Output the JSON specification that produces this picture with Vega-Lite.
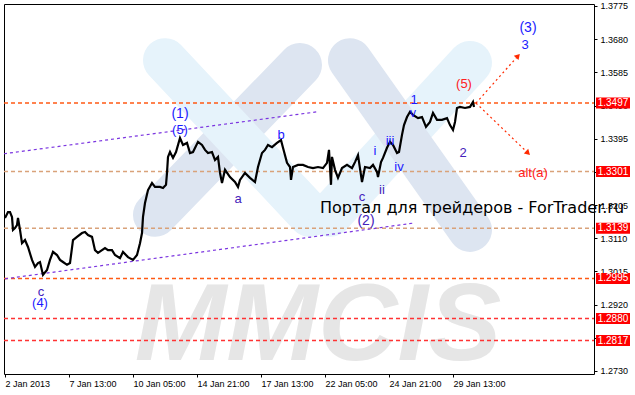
{
  "$schema": "https://vega.github.io/schema/vega-lite/v6.json",
  "width": 590,
  "height": 370,
  "autosize": {"type": "none"},
  "padding": {"left": 4, "top": 4, "right": 41, "bottom": 21},
  "background": "white",
  "config": {
    "view": {"stroke": "black", "strokeWidth": 1},
    "axis": {"labelFont": "Liberation Sans", "labelFontSize": 9, "labelColor": "black", "tickColor": "black", "grid": false, "domain": false, "title": null}
  },
  "resolve": {"scale": {"color": "independent", "size": "independent", "angle": "independent"}},
  "datasets": {
    "price": [
      {"b":1,"p":1.3168},{"b":4,"p":1.3185},{"b":6,"p":1.3185},{"b":8,"p":1.3171},{"b":9,"p":1.3134},{"b":11,"p":1.3139},{"b":13,"p":1.3148},{"b":14,"p":1.3168},{"b":16,"p":1.3134},{"b":18,"p":1.3096},{"b":21,"p":1.3105},{"b":24,"p":1.3085},{"b":28,"p":1.3048},{"b":31,"p":1.3028},{"b":34,"p":1.3039},{"b":36,"p":1.3042},{"b":39,"p":1.3005},{"b":43,"p":1.3019},{"b":46,"p":1.3048},{"b":49,"p":1.3071},{"b":53,"p":1.3062},{"b":56,"p":1.3048},{"b":59,"p":1.3042},{"b":63,"p":1.3034},{"b":66,"p":1.3039},{"b":69,"p":1.3105},{"b":73,"p":1.3114},{"b":78,"p":1.3125},{"b":81,"p":1.3128},{"b":84,"p":1.3119},{"b":88,"p":1.3114},{"b":91,"p":1.3076},{"b":94,"p":1.3068},{"b":98,"p":1.3076},{"b":101,"p":1.3082},{"b":104,"p":1.3076},{"b":108,"p":1.3076},{"b":111,"p":1.3062},{"b":116,"p":1.3053},{"b":119,"p":1.3071},{"b":124,"p":1.3056},{"b":129,"p":1.3048},{"b":133,"p":1.3062},{"b":136,"p":1.3096},{"b":138,"p":1.3125},{"b":139,"p":1.3171},{"b":141,"p":1.3211},{"b":144,"p":1.3248},{"b":148,"p":1.3268},{"b":151,"p":1.3257},{"b":156,"p":1.3257},{"b":159,"p":1.3254},{"b":162,"p":1.3263},{"b":163,"p":1.3297},{"b":164,"p":1.3343},{"b":166,"p":1.3357},{"b":169,"p":1.3340},{"b":172,"p":1.3357},{"b":176,"p":1.3397},{"b":179,"p":1.3377},{"b":183,"p":1.3383},{"b":186,"p":1.3354},{"b":189,"p":1.3357},{"b":194,"p":1.3386},{"b":198,"p":1.3377},{"b":201,"p":1.3363},{"b":204,"p":1.3354},{"b":208,"p":1.3357},{"b":211,"p":1.3334},{"b":214,"p":1.3343},{"b":216,"p":1.3297},{"b":218,"p":1.3268},{"b":221,"p":1.3306},{"b":226,"p":1.3285},{"b":231,"p":1.3271},{"b":234,"p":1.3257},{"b":236,"p":1.3277},{"b":241,"p":1.3297},{"b":246,"p":1.3283},{"b":251,"p":1.3271},{"b":254,"p":1.3314},{"b":258,"p":1.3354},{"b":261,"p":1.3363},{"b":264,"p":1.3377},{"b":268,"p":1.3371},{"b":273,"p":1.3383},{"b":277,"p":1.3391},{"b":279,"p":1.3369},{"b":283,"p":1.3326},{"b":286,"p":1.3314},{"b":287,"p":1.3277},{"b":289,"p":1.3314},{"b":294,"p":1.3320},{"b":299,"p":1.3320},{"b":304,"p":1.3314},{"b":309,"p":1.3311},{"b":314,"p":1.3314},{"b":319,"p":1.3311},{"b":323,"p":1.3326},{"b":325,"p":1.3363},{"b":327,"p":1.3263},{"b":328,"p":1.3343},{"b":331,"p":1.3306},{"b":334,"p":1.3283},{"b":338,"p":1.3311},{"b":343,"p":1.3320},{"b":348,"p":1.3311},{"b":351,"p":1.3328},{"b":354,"p":1.3348},{"b":358,"p":1.3271},{"b":361,"p":1.3314},{"b":366,"p":1.3311},{"b":369,"p":1.3320},{"b":373,"p":1.3300},{"b":374,"p":1.3285},{"b":377,"p":1.3328},{"b":379,"p":1.3340},{"b":383,"p":1.3369},{"b":386,"p":1.3386},{"b":389,"p":1.3377},{"b":393,"p":1.3354},{"b":395,"p":1.3357},{"b":398,"p":1.3406},{"b":400,"p":1.3434},{"b":403,"p":1.3457},{"b":406,"p":1.3472},{"b":409,"p":1.3463},{"b":414,"p":1.3454},{"b":418,"p":1.3457},{"b":422,"p":1.3429},{"b":426,"p":1.3443},{"b":429,"p":1.3469},{"b":433,"p":1.3449},{"b":438,"p":1.3449},{"b":443,"p":1.3454},{"b":446,"p":1.3434},{"b":449,"p":1.3420},{"b":451,"p":1.3443},{"b":453,"p":1.3483},{"b":456,"p":1.3486},{"b":461,"p":1.3483},{"b":466,"p":1.3486},{"b":469,"p":1.3500},{"b":470,"p":1.3486}
    ],
    "levels": [
      {"p":1.3497,"label":"1.3497","kind":"key"},
      {"p":1.3301,"label":"1.3301","kind":"mid"},
      {"p":1.3139,"label":"1.3139","kind":"mid"},
      {"p":1.2995,"label":"1.2995","kind":"key"},
      {"p":1.2880,"label":"1.2880","kind":"low"},
      {"p":1.2817,"label":"1.2817","kind":"low"}
    ],
    "trends": [
      {"b":0,"p":1.3352,"b2":313,"p2":1.3472},
      {"b":1,"p":1.2994,"b2":411,"p2":1.3154}
    ],
    "arrows": [
      {"b":472,"p":1.3497,"b2":514,"p2":1.3632,"head":"up"},
      {"b":472,"p":1.3497,"b2":524,"p2":1.3354,"head":"down"}
    ],
    "logo": [
      {"b":151,"p":1.3177,"b2":296,"p2":1.3606,"tone":"steel"},
      {"b":161,"p":1.3620,"b2":306,"p2":1.3177,"tone":"pale"},
      {"b":466,"p":1.3612,"b2":326,"p2":1.3177,"tone":"pale"},
      {"b":346,"p":1.3620,"b2":466,"p2":1.3134,"tone":"steel"}
    ],
    "brand": [{"b":314,"p":1.2762,"t":"MMCIS"}],
    "portal": [{"b":316,"p":1.3182,"t":"Портал для трейдеров - ForTrader.ru"}],
    "notes": [
      {"b":524,"p":1.3712,"t":"(3)","c":"blue","s":"big"},
      {"b":521,"p":1.3663,"t":"3","c":"blue","s":"mid"},
      {"b":460,"p":1.3552,"t":"(5)","c":"red","s":"mid"},
      {"b":410,"p":1.3506,"t":"1","c":"blue","s":"mid"},
      {"b":409,"p":1.3469,"t":"v","c":"blue","s":"small"},
      {"b":459,"p":1.3354,"t":"2","c":"indigo","s":"mid"},
      {"b":529,"p":1.3297,"t":"alt(a)","c":"red","s":"mid"},
      {"b":176,"p":1.3466,"t":"(1)","c":"blue","s":"big"},
      {"b":176,"p":1.3420,"t":"(5)","c":"blue","s":"mid"},
      {"b":277,"p":1.3406,"t":"b","c":"blue","s":"mid"},
      {"b":234,"p":1.3222,"t":"a","c":"indigo","s":"mid"},
      {"b":371,"p":1.3360,"t":"i","c":"blue","s":"mid"},
      {"b":386,"p":1.3389,"t":"iii","c":"blue","s":"mid"},
      {"b":395,"p":1.3314,"t":"iv","c":"blue","s":"mid"},
      {"b":378,"p":1.3248,"t":"ii","c":"indigo","s":"mid"},
      {"b":358,"p":1.3228,"t":"c","c":"indigo","s":"mid"},
      {"b":362,"p":1.3160,"t":"(2)","c":"indigo","s":"big"},
      {"b":37,"p":1.2956,"t":"c","c":"indigo","s":"mid"},
      {"b":36,"p":1.2925,"t":"(4)","c":"blue","s":"mid"}
    ]
  },
  "encoding": {
    "y": {"field": "p", "type": "quantitative", "scale": {"domain": [1.27214, 1.37807], "nice": false, "zero": false},
      "axis": {"orient": "right", "values": [1.3775, 1.3680, 1.3585, 1.3490, 1.3395, 1.3300, 1.3205, 1.3110, 1.3015, 1.2920, 1.2825, 1.2730], "format": ".4f", "tickSize": 3, "labelPadding": 3, "labelBaseline": "middle", "labelOverlap": false, "title": null}}
  },
  "layer": [
    {
      "data": {"name": "logo"},
      "mark": {"type": "rule", "strokeWidth": 44, "strokeCap": "round"},
      "encoding": {
        "x": {"field": "b", "type": "quantitative", "title": null},
        "x2": {"field": "b2"},
        "y2": {"field": "p2"},
        "color": {"field": "tone", "type": "nominal", "scale": {"domain": ["steel", "pale"], "range": ["#dde5f1", "#e6f3fb"]}, "legend": null}
      }
    },
    {
      "data": {"name": "brand"},
      "mark": {"type": "text", "font": "Liberation Sans", "fontSize": 110, "fontWeight": "bold", "fontStyle": "italic", "color": "#e6e6e6", "align": "center", "baseline": "alphabetic"},
      "encoding": {
        "x": {"field": "b", "type": "quantitative", "title": null},
        "text": {"field": "t"}
      }
    },
    {
      "data": {"name": "levels"},
      "mark": {"type": "rule", "strokeWidth": 1.5, "strokeDash": [4, 3]},
      "encoding": {
        "x": {"datum": 0},
        "x2": {"datum": 590},
        "color": {"field": "kind", "type": "nominal", "scale": {"domain": ["key", "mid", "low"], "range": ["#ff5a14", "#d9a27a", "#ff3333"]}, "legend": null}
      }
    },
    {
      "data": {"name": "trends"},
      "mark": {"type": "rule", "strokeWidth": 1.2, "strokeDash": [3, 3], "color": "#7b35e0"},
      "encoding": {
        "x": {"field": "b", "type": "quantitative", "title": null},
        "x2": {"field": "b2"}, "y2": {"field": "p2"}
      }
    },
    {
      "data": {"name": "arrows"},
      "mark": {"type": "rule", "strokeWidth": 1.2, "strokeDash": [2, 3], "color": "#ff2a00"},
      "encoding": {
        "x": {"field": "b", "type": "quantitative", "title": null},
        "x2": {"field": "b2"}, "y2": {"field": "p2"}
      }
    },
    {
      "data": {"name": "arrows"},
      "mark": {"type": "point", "shape": "triangle-up", "filled": true, "size": 40, "color": "#ff2a00", "opacity": 1},
      "encoding": {
        "x": {"field": "b2", "type": "quantitative", "title": null},
        "y": {"field": "p2", "type": "quantitative"},
        "angle": {"field": "head", "type": "nominal", "scale": {"domain": ["up", "down"], "range": [42, 134]}, "legend": null}
      }
    },
    {
      "data": {"name": "price"},
      "mark": {"type": "line", "color": "black", "strokeWidth": 2.2, "strokeJoin": "miter"},
      "encoding": {
        "x": {"field": "b", "type": "quantitative", "title": null, "scale": {"domain": [0, 590], "nice": false, "zero": false},
          "axis": {"orient": "bottom", "values": [1, 65, 129, 193, 257, 321, 385, 449], "tickSize": 3, "labelAlign": "left", "labelPadding": 2, "labelFlush": false, "labelOverlap": false,
            "labelExpr": "datum.value == 1 ? '2 Jan 2013' : datum.value == 65 ? '7 Jan 13:00' : datum.value == 129 ? '10 Jan 05:00' : datum.value == 193 ? '14 Jan 21:00' : datum.value == 257 ? '17 Jan 13:00' : datum.value == 321 ? '22 Jan 05:00' : datum.value == 385 ? '24 Jan 21:00' : '29 Jan 13:00'"}}
      }
    },
    {
      "data": {"name": "notes"},
      "mark": {"type": "text", "font": "Liberation Sans", "align": "center", "baseline": "middle"},
      "encoding": {
        "x": {"field": "b", "type": "quantitative", "title": null},
        "text": {"field": "t"},
        "color": {"field": "c", "type": "nominal", "scale": {"domain": ["blue", "indigo", "red"], "range": ["#1a1aff", "#4422bb", "#ff2020"]}, "legend": null},
        "size": {"field": "s", "type": "nominal", "scale": {"domain": ["big", "mid", "small"], "range": [14, 12, 11]}, "legend": null}
      }
    },
    {
      "data": {"name": "portal"},
      "mark": {"type": "text", "font": "DejaVu Sans", "fontSize": 16, "color": "black", "align": "left", "baseline": "alphabetic"},
      "encoding": {
        "x": {"field": "b", "type": "quantitative", "title": null},
        "text": {"field": "t"}
      }
    },
    {
      "data": {"name": "levels"},
      "mark": {"type": "rect", "color": "#ff0000", "opacity": 1, "height": 11},
      "encoding": {
        "x": {"datum": 592}, "x2": {"datum": 626}
      }
    },
    {
      "data": {"name": "levels"},
      "mark": {"type": "text", "font": "Liberation Sans", "fontSize": 10, "color": "white", "align": "center", "baseline": "middle"},
      "encoding": {
        "x": {"datum": 609},
        "text": {"field": "label"}
      }
    }
  ]
}
